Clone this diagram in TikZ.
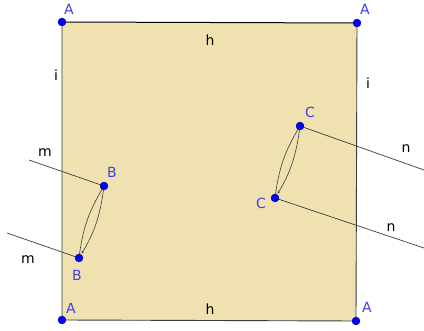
\documentclass[tikz,border=0pt]{standalone}
\usepackage{fontspec}
\setmainfont{DejaVu Sans}
\usetikzlibrary{arrows.meta}
\definecolor{fillc}{RGB}{239,226,176}
\definecolor{ptc}{RGB}{64,64,230}
\definecolor{linec}{RGB}{60,60,60}
\begin{document}
\begin{tikzpicture}[x=1pt,y=-1pt,
  pt/.style={circle,fill=blue,draw=blue!40!black,line width=0.3pt,inner sep=0pt,minimum size=8pt},
  plab/.style={text=ptc,font=\fontsize{14}{16}\selectfont,inner sep=0pt},
  llab/.style={text=black,font=\fontsize{14}{16}\selectfont,inner sep=0pt},
  seg/.style={draw=linec,line width=0.7pt},
  loopc/.style={draw=linec,line width=0.6pt}]
\useasboundingbox (0,0) rectangle (424,331);
\coordinate (A1) at (62,22);
\coordinate (A2) at (357,23);
\coordinate (A3) at (356,321);
\coordinate (A4) at (62,320);
\fill[fillc] (A1) -- (A2) -- (A3) -- (A4) -- cycle;
\draw[line width=1pt,draw=black] (A1) -- (A2);
\draw[seg,line width=0.9pt] (A2) -- (A3) -- (A4) -- (A1);
\coordinate (B1) at (104,186);
\coordinate (B2) at (79,258);
\coordinate (C1) at (300,126);
\coordinate (C2) at (275,198);
\coordinate (m1) at (29,160);
\coordinate (m2) at (7,233);
\coordinate (n1) at (424,170);
\coordinate (n2) at (424,248);
\draw[seg] (m1) -- (B1);
\draw[seg] (m2) -- (B2);
\draw[seg] (C1) -- (n1);
\draw[seg] (C2) -- (n2);
\draw[loopc] (B1) to[bend right=12] (B2);
\draw[loopc,-{Stealth[length=3pt,width=2.5pt]},shorten >=5pt] (B1) to[bend left=12] (B2);
\draw[loopc] (C1) to[bend right=12] (C2);
\draw[loopc,-{Stealth[length=3pt,width=2.5pt]},shorten >=5pt] (C1) to[bend left=12] (C2);
\foreach \p in {A1,A2,A3,A4,B1,B2,C1,C2} \node[pt] (P\p) at (\p) {};
\node[plab] (lA1) at (69,9) {A};
\node[plab] (lA2) at (365,9) {A};
\node[plab] (lA4) at (71,308) {A};
\node[plab] (lA3) at (367,307) {A};
\node[plab] (lB1) at (112,172) {B};
\node[plab] (lB2) at (77,275) {B};
\node[plab] (lC1) at (310,112) {C};
\node[plab] (lC2) at (261,203) {C};
\node[llab] (lh1) at (210,40) {h};
\node[llab] (lh2) at (210,309) {h};
\node[llab] (li1) at (56,75) {i};
\node[llab] (li2) at (368,83) {i};
\node[llab] (lm1) at (45,153) {m};
\node[llab] (lm2) at (28,260) {m};
\node[llab] (ln1) at (406,149) {n};
\node[llab] (ln2) at (391,228) {n};
\end{tikzpicture}
\end{document}
